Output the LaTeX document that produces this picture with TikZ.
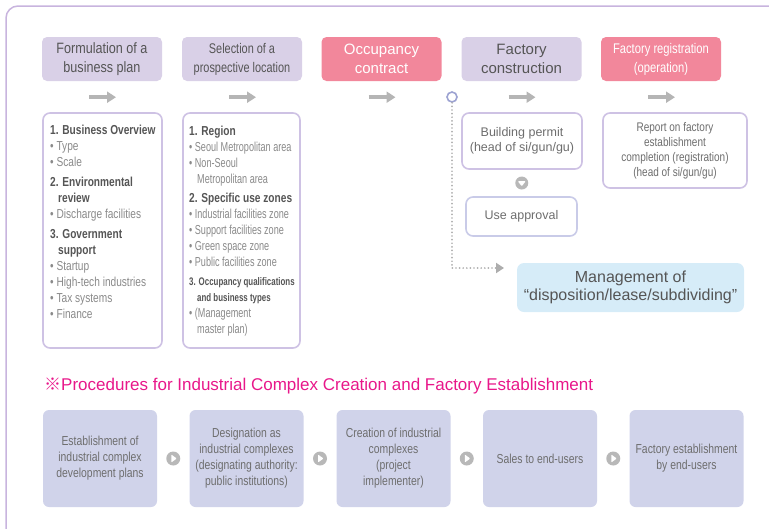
\documentclass[tikz,border=0pt]{standalone}
\usepackage{fontspec}
\usetikzlibrary{arrows.meta,calc}
\setmainfont{Liberation Sans}
\newfontfamily\fnA{Liberation Sans}[FakeStretch=0.84]
\newfontfamily\fnB{Liberation Sans}[FakeStretch=0.8]
\newfontfamily\fnC{Liberation Sans}[FakeStretch=0.78]
\newfontfamily\fnD{Liberation Sans}[FakeStretch=0.72]
\newfontfamily\fnE{Liberation Sans}[FakeStretch=0.7]
\newfontfamily\fnMark{Noto Sans CJK JP}

\definecolor{framec}{HTML}{C8B4DE}
\definecolor{lav}{HTML}{D9D0E7}
\definecolor{pinkc}{HTML}{F2879B}
\definecolor{txtd}{HTML}{555555}
\definecolor{txtm}{HTML}{6E6E6E}
\definecolor{txtl}{HTML}{8A8A8A}
\definecolor{arrowc}{HTML}{B5B5B5}
\definecolor{boxline}{HTML}{CEC2E4}
\definecolor{boxline2}{HTML}{C9CBE8}
\definecolor{ringc}{HTML}{9DA3D2}
\definecolor{dotc}{HTML}{ADADAD}
\definecolor{mgmtc}{HTML}{D6ECF8}
\definecolor{magc}{HTML}{E8178A}
\definecolor{stepc}{HTML}{D0D3EA}
\definecolor{iconc}{HTML}{B8B8B8}

% section headings inside the detail boxes
\newcommand\secthd[1]{{\fnC\bfseries\fontsize{13}{16}\selectfont\color{txtd}#1}}
\newcommand\secthdsmall[1]{{\fnD\bfseries\fontsize{11}{16}\selectfont\color{txtd}#1}}

\tikzset{
  head/.style={rounded corners=5pt, minimum width=120pt, minimum height=44pt,
    inner sep=0pt, align=center, text=txtd, fill=lav},
  headpink/.style={head, fill=pinkc, text=white},
  flowarrow/.style={draw=arrowc, line width=4.5pt, -{Triangle[length=9pt,width=11pt]}},
  detail/.style={draw=boxline, line width=1.6pt, rounded corners=7pt, fill=white,
    inner sep=0pt},
  detailtext/.style={anchor=north west, inner sep=0pt, align=left, text=txtl},
  ring/.style={circle, draw=ringc, line width=1.6pt, fill=white, minimum size=10pt,
    inner sep=0pt},
  dotline/.style={draw=dotc, line width=1.9pt, dash pattern=on 0pt off 3.6pt,
    line cap=round, -{Triangle[length=8pt,width=10pt,fill=dotc]}},
  stepbox/.style={fill=stepc, rounded corners=6pt, minimum width=114pt,
    minimum height=97pt, inner sep=0pt, align=center, text=txtm,
    font=\fnB\fontsize{13}{16}\selectfont},
  stepicon/.style={circle, fill=iconc, minimum size=14pt, inner sep=0pt},
}

\begin{document}
\begin{tikzpicture}[x=1pt,y=-1pt]
\useasboundingbox (0,0) rectangle (769,528);

% open outer frame
\draw[framec, line width=1.5pt, rounded corners=12pt] (6,540) -- (6,6) -- (780,6);

% ---- main stages ----
\node[head, font=\fnA\fontsize{15}{19}\selectfont] (h1) at (102,59) {Formulation of a\\business plan};
\node[head, font=\fnC\fontsize{14}{19}\selectfont] (h2) at (242,59) {Selection of a\\prospective location};
\node[headpink, font=\fontsize{15}{19}\selectfont] (h3) at (381.5,59) {Occupancy\\contract};
\node[head, font=\fontsize{15}{19}\selectfont] (h4) at (521.5,59) {Factory\\construction};
\node[headpink, font=\fnB\fontsize{14}{19}\selectfont] (h5) at (661,59) {Factory registration\\(operation)};

\foreach \h in {h1,h2,h3,h4,h5}
  \draw[flowarrow] ($(\h.south)+(-13,16)$) -- ++(27,0);

% ---- detail boxes ----
\node[detail, minimum width=119pt, minimum height=235pt] (d1) at (102.5,230.5) {};
\node[detailtext, font=\fnC\fontsize{13}{16}\selectfont] (d1t) at (50,125.2) {%
\secthd{1. Business Overview}\\
• Type\\
• Scale\\[4pt]
\secthd{2. Environmental}\\
\secthd{\hspace*{8pt}review}\\
• Discharge facilities\\[4pt]
\secthd{3. Government}\\
\secthd{\hspace*{8pt}support}\\
• Startup\\
• High-tech industries\\
• Tax systems\\
• Finance};

\node[detail, minimum width=117pt, minimum height=235pt] (d2) at (241.5,230.5) {};
\node[detailtext, font=\fnE\fontsize{13}{16}\selectfont] (d2t) at (189,126.2) {%
\secthd{1. Region}\\
• Seoul Metropolitan area\\
• Non-Seoul\\
\hspace*{8pt}Metropolitan area\\[3pt]
\secthd{2. Specific use zones}\\
• Industrial facilities zone\\
• Support facilities zone\\
• Green space zone\\
• Public facilities zone\\[3pt]
\secthdsmall{3. Occupancy qualifications}\\
\secthdsmall{\hspace*{8pt}and business types}\\
• (Management\\
\hspace*{8pt}master plan)};

\node[detail, minimum width=120pt, minimum height=56pt, align=center,
  font=\fontsize{12.5}{15}\selectfont, text=txtm] (bp) at (522,141)
  {Building permit\\(head of si/gun/gu)};
\node[detail, draw=boxline2, minimum width=111pt, minimum height=39pt,
  font=\fontsize{12.5}{15}\selectfont, text=txtm] (ua) at (521.5,216.5) {Use approval};
\node[stepicon, minimum size=13pt] (dn) at ($(bp.south)!0.5!(ua.north)$) {};
\fill[white, rounded corners=0.8pt] ($(dn)+(-4,-1.8)$) -- ($(dn)+(4,-1.8)$) -- ($(dn)+(0,3.2)$) -- cycle;

\node[detail, minimum width=144pt, minimum height=75pt, align=center,
  font=\fnB\fontsize{12.5}{15}\selectfont, text=txtm] (rp) at (675,150.5)
  {Report on factory\\establishment\\completion (registration)\\(head of si/gun/gu)};

\node[rounded corners=7pt, fill=mgmtc, minimum width=227pt, minimum height=49pt,
  inner sep=0pt, align=center, font=\fontsize{16}{18}\selectfont, text=txtd] (mg)
  at (630.5,287.5) {Management of\\“disposition/lease/subdividing”};

% dotted branch from the contract stage to management
\node[ring] (rg) at (452,97) {};
\coordinate (mgin) at (504,268);
\draw[dotline] (rg.south) |- (mgin);

% ---- industrial complex procedure ----
\node[anchor=west, inner sep=0pt, text=magc, font=\fontsize{17}{20}\selectfont] (title)
  at (44,386) {{\fnMark ※}Procedures for Industrial Complex Creation and Factory Establishment};

\node[stepbox] (s1) at (100,458.5) {Establishment of\\industrial complex\\development plans};
\node[stepbox] (s2) at (246.5,458.5) {Designation as\\industrial complexes\\(designating authority:\\public institutions)};
\node[stepbox] (s3) at (393.5,458.5) {Creation of industrial\\complexes\\(project\\implementer)};
\node[stepbox] (s4) at (540,458.5) {Sales to end-users};
\node[stepbox] (s5) at (686.5,458.5) {Factory establishment\\by end-users};

\foreach \a/\b [count=\k] in {s1/s2,s2/s3,s3/s4,s4/s5}{
  \node[stepicon] (c\k) at ($(\a.east)!0.5!(\b.west)$) {};
  \fill[white, rounded corners=0.8pt] ($(c\k)+(-2,-4)$) -- ($(c\k)+(3.5,0)$) -- ($(c\k)+(-2,4)$) -- cycle;
}
\end{tikzpicture}
\end{document}
